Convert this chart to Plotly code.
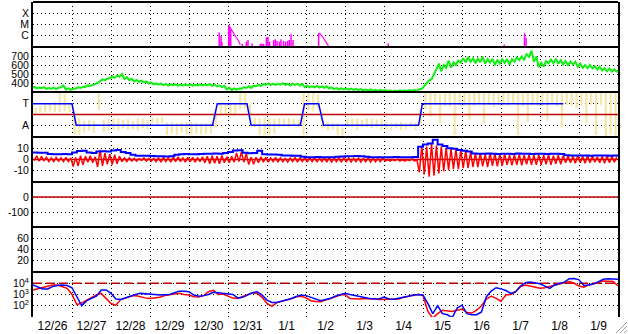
import numpy as np
import pandas as pd
import plotly.graph_objects as go
from plotly.subplots import make_subplots

START = pd.Timestamp("2014-12-26")
END = pd.Timestamp("2015-01-10")
STEP_H = 3  # hours between samples

# ---------------- data ----------------
# X-ray flares: isolated spikes (hours since start, flux W/m2)
xr_spike_h = [114.6, 115.7, 116.3, 120.4, 121.0, 121.7, 128.8, 131.3, 132.3, 134.8, 139.9, 140.9,
              141.9, 143.6, 144.6, 145.6, 148.1, 149.1, 150.2, 151.6, 152.6, 154.2, 155.4, 156.7,
              157.7, 158.8, 160.0, 175.8, 218.6, 290.0, 302.5, 303.4]
xr_spike_f = [1.9e-6, 9.5e-7, 3e-7, 9e-6, 6e-6, 3.7e-6, 1.9e-7, 3e-7, 4.2e-7, 2.1e-7, 1.9e-7, 2.1e-7,
              1.9e-7, 7.2e-7, 8.3e-7, 3e-7, 4.2e-7, 4.9e-7, 3.5e-7, 3e-7, 4.9e-7, 3.5e-7, 3e-7, 3.5e-7,
              4.2e-7, 1.35e-6, 4.2e-7, 1.65e-6, 2.1e-7, 1.7e-7, 1.65e-6, 6.7e-7]
# X-ray flare decays (polyline, None = gap)
xr_decay_h = [120.4, 121.1, 121.7, 122.6, 123.9, 125.1, 126.3, 127.6, None,
              175.8, 176.8, 178.0, 179.3, 180.5, 181.9]
xr_decay_f = [9e-6, 6e-6, 3.7e-6, 2.2e-6, 1.3e-6, 7e-7, 4e-7, 1.6e-7, None,
              1.65e-6, 1.4e-6, 9e-7, 5e-7, 2.8e-7, 1.2e-7]

# Solar wind speed (km/s), every 3 h
speed = [350, 345, 348, 340, 342, 340, 362, 335,
         330, 345, 352, 365, 372, 392, 430, 440,
         462, 470, 485, 455, 440, 425, 420, 412,
         400, 390, 388, 382, 378, 380, 376, 378,
         380, 376, 380, 378, 382, 376, 368, 360,
         338, 330, 332, 345, 355, 358, 372, 378,
         388, 384, 386, 390, 385, 382, 386, 380,
         362, 358, 360, 356, 355, 345, 338, 335,
         333, 332, 330, 328, 322, 324, 320, 318,
         316, 314, 312, 315, 314, 316, 318, 322,
         350, 410, 465, 585, 565, 610, 600, 625,
         650, 660, 655, 645, 662, 640, 648, 628,
         640, 645, 635, 660, 675, 690, 725, 665,
         600, 612, 640, 645, 632, 625, 618, 620,
         598, 585, 582, 575, 565, 552, 545, 540,
         538]
# half-range of speed scatter within each sample (km/s)
speed_jit = [6, 5, 6, 5, 6, 8, 10, 6,
             6, 7, 6, 8, 6, 8, 10, 8,
             10, 12, 15, 10, 8, 8, 6, 6,
             6, 5, 6, 5, 6, 5, 6, 5,
             6, 5, 6, 5, 6, 8, 6, 8,
             8, 10, 6, 8, 10, 12, 8, 10,
             6, 8, 6, 8, 6, 10, 6, 8,
             8, 6, 8, 6, 8, 6, 6, 5,
             5, 5, 6, 5, 5, 6, 5, 5,
             5, 5, 5, 5, 5, 5, 5, 8,
             15, 20, 25, 30, 35, 40, 30, 25,
             25, 30, 20, 25, 30, 25, 20, 30,
             25, 20, 30, 25, 20, 30, 35, 30,
             25, 30, 20, 25, 20, 18, 20, 15,
             18, 15, 18, 12, 15, 12, 15, 12,
             12]

# IMF sector polarity (T = +1, A = -1)
sector_h = [0, 24, 26.6, 110.5, 113.4, 131.7, 134.2, 164.5, 167.1, 175.8, 178.8, 237.3, 239.6, 326.3]
sector_v = [1, 1, -1, -1, 1, 1, -1, -1, 1, 1, -1, -1, 1, 1]
# IMF angle scatter per 3-h bin (panel units, T = +1, A = -1)
phi_lo = [0.1, 0.15, 0.2, 0.3, 0.2, 0.2, 0.3, 0.2,
          -1.9, -1.9, -1.7, -1.5, -1.7, 0.4, -1.6, -1.5,
          -1.4, -1.5, -1.3, -1.45, -1.4, -1.5, -1.3, -1.4,
          -0.8, -0.85, -0.8, -1.9, -1.8, -1.9, -1.7, -1.9,
          -1.9, -1.8, -1.9, -1.8, -1.75, -1.2, -0.05, 0.0,
          -0.05, 0.0, 0.5, 0.55, 0.0, -1.2, -1.9, -1.9,
          -1.9, -1.8, -1.2, -1.15, -1.2, -1.1, -1.2, -1.9,
          0.4, 0.3, 0.5, -1.3, -1.5, -1.4, -1.9, -1.95,
          -1.2, -1.2, -1.5, -1.2, -1.2, -1.3, -1.2, -1.45,
          -1.4, -1.45, -1.3, -1.45, -1.4, -1.2, -1.45, -0.9,
          0.5, -0.2, 0.9, -0.8, 0.8, 0.7, -1.9, 0.8,
          0.9, -0.5, 0.8, 1.0, -0.9, 0.9, 0.7, 0.9,
          0.9, 0.8, 1.0, -1.9, 0.8, -0.7, 0.9, 0.8,
          0.8, -0.6, 1.0, 0.8, -1.2, 0.9, 0.8, 0.6,
          0.8, -0.8, 0.9, -1.9, 0.9, -2.0, -1.9, -2.0]
phi_hi = [0.6, 0.8, 1.1, 1.0, 1.2, 2.0, 1.9, 1.1,
          -0.1, -0.3, -0.6, -0.5, -0.6, 2.0, -0.5, -0.4,
          -0.4, -0.35, -0.5, -0.4, -0.6, -0.35, -0.4, -0.5,
          -0.25, -0.3, -0.25, -0.75, -0.7, -0.8, -0.75, -0.7,
          -0.7, -0.75, -0.8, -0.85, -0.8, 0.2, 1.0, 1.1,
          1.05, 1.0, 2.0, 2.0, 1.1, -0.35, -0.4, -0.3,
          -0.35, -0.4, -0.35, -0.4, -0.35, -0.4, -0.5, 2.0,
          2.1, 2.0, 1.9, -0.5, -0.7, -0.75, -0.8, -1.2,
          -0.35, -0.4, -0.35, -0.5, -0.35, -0.4, -0.45, -0.35,
          -0.7, -0.75, -0.75, -0.7, -0.8, -0.7, -0.75, 0.5,
          2.1, 2.0, 2.1, 1.9, 2.1, 2.0, 2.1, 2.0,
          2.1, 2.1, 2.0, 2.1, 2.0, 2.1, 2.0, 2.1,
          2.1, 2.0, 2.1, 2.1, 2.0, 2.1, 2.1, 2.0,
          2.1, 2.1, 2.0, 2.1, 2.1, 2.0, 2.1, 2.1,
          2.1, 2.0, 2.1, 2.1, 2.0, 2.1, 2.0, 2.1]

# IMF |B| (nT), every 3 h
bt = [6.5, 6.3, 6.2, 5.2, 5.0, 5.0, 5.1, 5.0,
      6.5, 8.0, 8.2, 6.5, 6.0, 7.5, 7.8, 7.5,
      8.5, 8.8, 7.0, 6.0, 4.5, 3.5, 3.5, 3.6,
      3.2, 3.0, 3.0, 2.8, 3.0, 4.5, 5.0, 5.2,
      5.0, 5.0, 5.2, 5.3, 5.3, 5.5, 5.3, 6.0,
      7.0, 8.4, 8.6, 6.2, 5.9, 6.0, 8.2, 5.0,
      4.7, 4.6, 4.5, 3.8, 3.7, 3.6, 3.4, 2.6,
      2.2, 2.1, 2.3, 2.1, 2.2, 2.1, 2.5, 2.8,
      3.0, 3.0, 3.2, 3.0, 2.5, 2.2, 2.1, 2.1,
      2.2, 2.1, 2.4, 2.2, 2.1, 2.2, 2.3, 12.0,
      14.0, 15.0, 18.5, 14.0, 12.5, 10.5, 10.0, 8.8,
      8.2, 7.5, 5.6, 5.4, 5.3, 5.5, 5.3, 5.2,
      5.4, 5.3, 5.2, 5.5, 5.3, 5.4, 5.2, 5.3,
      5.3, 5.2, 5.4, 5.3, 5.1, 4.0, 3.8, 3.7,
      3.7, 3.8, 3.6, 3.7, 3.8, 3.7, 3.6, 3.7,
      3.7]
# IMF Bz range per 3-h bin (nT)
bz_lo = [-1, -1.5, -1, -2, -2, -1.5, -2, -2,
         -6.5, -6, -5, -2.5, -3, -7, -6, -4.5,
         -4.7, -4, -2, -2, -1.5, -1.5, -1, -1.5,
         -1.5, -2, -2.5, -2, -2.5, -2, -2, -2.5,
         -2, -2.5, -2, -3, -4, -3.5, -4, -3,
         -3, -2.5, -2, -2.5, -4.7, -4.5, -3, -2.5,
         -2.5, -2, -2.5, -2, -2.5, -2, -2.5, -2,
         -2.5, -2, -2.5, -2, -2.5, -2.5, -2, -2.5,
         -2, -2.5, -2, -2.5, -2, -2.5, -2, -2,
         -1.5, -1.5, -1, -1.5, -1.5, -1, -1.5, -12,
         -14, -16, -15, -13, -11, -10, -9, -9,
         -8, -8, -7, -7, -6.5, -7, -6, -6.5,
         -5.6, -5, -5.5, -5, -5.5, -4.5, -5, -5,
         -5, -4.5, -5, -4, -4.5, -3, -3, -3.5,
         -3, -3.5, -3, -2.5, -3, -3.5, -3, -2.5]
bz_hi = [3.5, 3, 2, 1.5, 2, 1.5, 2, 1.5,
         2, 3.5, 3, 3.5, 2.5, 9, 6, 5,
         4.5, 3, 1.5, 1.5, 1, 1, 1.5, 1,
         1, 1.5, 2, 1.5, 2, 2.5, 1.5, 2,
         2, 1.5, 2.5, 3, 3.5, 3, 3.7, 2.5,
         3, 6, 7, 5.5, 2, 2, 2.5, 2,
         1.5, 2, 1.5, 1, 1.5, 2, 1.5, 2,
         2, 1.5, 1.5, 2, 1.5, 1, 1.5, 1.5,
         1.5, 1, 1.5, 1, 1.5, 1, 1, 1.5,
         0, 0, 0.5, 0, 0, 0.5, 0, 13,
         12, 14.7, 13, 12, 11, 10, 9.5, 9,
         8, 7, 6, 6, 5, 6, 5.5, 5,
         5, 4, 4.5, 5, 4, 4.5, 4, 4.5,
         4, 4.5, 3.5, 4, 3.5, 3.5, 3, 3.7,
         3, 3.7, 3, 2.5, 3, 3.5, 3, 2.5]

# Electron flux, log10, every 3 h (two channels)
flux_blue_log = [3.84, 3.7, 3.5, 3.5, 3.7, 3.8, 3.85, 3.8,
                 3.6, 2.8, 2.0, 2.45, 2.65, 2.85, 3.4, 3.4,
                 3.1, 2.6, 2.55, 2.7, 2.9, 3.0, 3.1, 3.08,
                 3.04, 3.0, 2.95, 2.97, 3.0, 3.15, 3.3, 3.3,
                 3.25, 2.95, 2.85, 2.9, 3.0, 3.2, 3.16, 3.1,
                 3.08, 3.0, 2.7, 2.75, 2.95, 3.15, 3.25, 2.95,
                 2.5, 2.3, 2.3, 2.4, 2.5, 2.65, 2.82, 2.95,
                 2.9, 2.75, 2.55, 2.45, 2.55, 2.65, 2.85, 2.98,
                 3.1, 3.0, 2.9, 2.8, 2.7, 2.65, 2.62, 2.6,
                 2.78, 2.6, 2.58, 2.65, 2.75, 2.85, 2.95, 3.0,
                 2.95, 2.2, 1.3, 2.0, 1.3, 1.2, 0.95, 1.8,
                 2.05, 1.3, 1.2, 1.2, 1.45, 2.8, 3.3, 3.6,
                 3.5, 3.35, 3.1, 3.25, 3.75, 4.05, 4.12, 4.05,
                 3.95, 3.75, 3.55, 3.85, 4.0, 4.1, 4.4, 4.42,
                 4.3, 3.8, 3.85, 3.95, 4.15, 4.35, 4.4, 4.38,
                 4.35]
flux_red_log = [3.4, 3.5, 3.6, 3.7, 3.85, 3.85, 3.7, 3.55,
                3.0, 2.1, 2.25, 2.5, 2.7, 2.95, 3.1, 2.65,
                2.2, 2.05, 2.55, 2.68, 2.85, 2.92, 2.8, 2.7,
                2.65, 2.7, 2.75, 2.9, 2.98, 3.05, 3.1, 3.0,
                2.95, 2.8, 2.78, 2.9, 3.25, 3.38, 3.0, 3.05,
                2.85, 2.68, 2.65, 2.8, 3.0, 3.15, 3.1, 2.75,
                2.2, 1.95, 2.28, 2.38, 2.48, 2.62, 2.8, 2.85,
                2.7, 2.45, 2.38, 2.35, 2.5, 2.62, 2.8, 2.95,
                3.0, 2.65, 2.62, 2.6, 2.65, 2.65, 2.6, 2.55,
                2.57, 2.57, 2.55, 2.6, 2.75, 2.85, 2.95, 3.0,
                2.9, 1.5, 0.9, 1.3, 1.6, 1.55, 1.5, 1.6,
                1.7, 1.4, 1.35, 1.6, 2.0, 2.6, 2.85, 2.65,
                2.4, 2.95, 3.0, 3.25, 3.7, 3.85, 3.75, 3.6,
                3.55, 3.6, 3.7, 3.85, 3.95, 4.0, 4.15, 4.0,
                3.75, 3.65, 3.85, 3.95, 4.05, 4.2, 4.18, 4.15,
                3.75]
flux_alert_level = 1e4

# y-axis tick definitions
xray_ticks = [1e-6, 1e-5, 1e-4]
xray_labels = ["C", "M", "X"]
speed_ticks = [400, 500, 600, 700]
sector_ticks = [1, -1]
sector_labels = ["T", "A"]
bz_ticks = [10, 0, -10]
bz_labels = ["10", "0", "-10"]
dst_ticks = [0, -100]
dst_labels = ["0", "-100"]
kp_ticks = [20, 40, 60]
flux_ticks = [1e2, 1e3, 1e4]
flux_labels = ["10<sup>2</sup>", "10<sup>3</sup>", "10<sup>4</sup>"]

# ---------------- helpers ----------------
def to_time(hours):
    return [None if h is None else START + pd.Timedelta(hours=float(h)) for h in hours]


def vsegs(hours, lo, hi):
    xs, ys = [], []
    for t, a, b in zip(to_time(hours), lo, hi):
        xs += [t, t, None]
        ys += [a, b, None]
    return xs, ys


def sawtooth(hours, lo, hi, half):
    """noisy trace: within each sample the value swings from its low to its high"""
    hs, ys = [], []
    for h, a, b in zip(hours, lo, hi):
        hs += [h - half, h + half]
        ys += [a, b]
    return to_time(hs), ys


grid_h = np.arange(len(speed)) * STEP_H
bin_h = np.arange(len(bz_lo)) * STEP_H + STEP_H / 2
grid_t = to_time(grid_h)
span = [START, END]

fig = make_subplots(rows=7, cols=1, shared_xaxes=True, vertical_spacing=0)

MAG = "#ff00ff"
GREEN = "#11ee11"
YEL = "#f7e7a6"
BLUE = "#0000ff"
RED = "#ff0000"
DRED = "#c00000"

# panel 1: X-ray
sx, sy = vsegs(xr_spike_h, [1e-7] * len(xr_spike_h), xr_spike_f)
fig.add_trace(go.Scatter(x=sx, y=sy, mode="lines", line=dict(color=MAG, width=1.5)), row=1, col=1)
fig.add_trace(go.Scatter(x=to_time(xr_decay_h), y=xr_decay_f, mode="lines",
                         line=dict(color=MAG, width=1.2)), row=1, col=1)

# panel 2: speed
jx, jy = sawtooth(grid_h, [v - j for v, j in zip(speed, speed_jit)],
                  [v + j for v, j in zip(speed, speed_jit)], 0.75)
fig.add_trace(go.Scatter(x=jx, y=jy, mode="lines", line=dict(color=GREEN, width=2)), row=2, col=1)

# panel 3: sector
px_, py_ = vsegs(bin_h, phi_lo, phi_hi)
fig.add_trace(go.Scatter(x=px_, y=py_, mode="lines", line=dict(color=YEL, width=2.2)), row=3, col=1)
fig.add_trace(go.Scatter(x=span, y=[0, 0], mode="lines", line=dict(color=DRED, width=1.5)), row=3, col=1)
fig.add_trace(go.Scatter(x=to_time(sector_h), y=sector_v, mode="lines", line=dict(color=BLUE, width=1.5)), row=3, col=1)

# panel 4: Bz / Bt
fig.add_trace(go.Scatter(x=span, y=[0, 0], mode="lines", line=dict(color=DRED, width=1.5)), row=4, col=1)
bx, by = sawtooth(bin_h, bz_lo, bz_hi, 0.75)
fig.add_trace(go.Scatter(x=bx, y=by, mode="lines", line=dict(color=RED, width=1.5)), row=4, col=1)
fig.add_trace(go.Scatter(x=grid_t, y=bt, mode="lines", line=dict(color=BLUE, width=2, shape="hv")), row=4, col=1)

# panel 5: Dst (reference line only)
fig.add_trace(go.Scatter(x=span, y=[0, 0], mode="lines", line=dict(color=DRED, width=1.5)), row=5, col=1)

# panel 6: empty
fig.add_trace(go.Scatter(x=span, y=[None, None], mode="lines"), row=6, col=1)

# panel 7: electron flux
fig.add_trace(go.Scatter(x=span, y=[flux_alert_level] * 2, mode="lines",
                         line=dict(color=DRED, width=1.5, dash="9px,4px")), row=7, col=1)
fig.add_trace(go.Scatter(x=grid_t, y=[10 ** v for v in flux_red_log], mode="lines",
                         line=dict(color=RED, width=1.5)), row=7, col=1)
fig.add_trace(go.Scatter(x=grid_t, y=[10 ** v for v in flux_blue_log], mode="lines",
                         line=dict(color=BLUE, width=1.5)), row=7, col=1)

FONT = "Liberation Sans, Arial, sans-serif"
grid = dict(showgrid=True, gridcolor="black", griddash="1px,3px", gridwidth=1)

for r in range(1, 8):
    fig.update_xaxes(row=r, col=1, type="date", range=span, dtick=86400000, tick0=START,
                     tickformat="%-m/%-d", ticklabelmode="period", ticks="",
                     showline=False, zeroline=False, automargin=False, fixedrange=True,
                     tickfont=dict(family=FONT, size=12, color="black"), **grid)
    fig.update_yaxes(row=r, col=1, showline=True, mirror=True, linecolor="black", linewidth=2,
                     ticks="", zeroline=False, automargin=False, fixedrange=True,
                     tickfont=dict(family=FONT, size=10.5, color="black"), **grid)

fig.update_yaxes(row=1, col=1, type="log", range=[-7, -3], tickmode="array", tickvals=xray_ticks, ticktext=xray_labels)
fig.update_yaxes(row=2, col=1, range=[300, 800], tickmode="array", tickvals=speed_ticks)
fig.update_yaxes(row=3, col=1, range=[-2.1, 2.1], tickmode="array", tickvals=sector_ticks, ticktext=sector_labels)
fig.update_yaxes(row=4, col=1, range=[-21, 21], tickmode="array", tickvals=bz_ticks, ticktext=bz_labels)
fig.update_yaxes(row=5, col=1, range=[-200, 100], tickmode="array", tickvals=dst_ticks, ticktext=dst_labels)
fig.update_yaxes(row=6, col=1, range=[0, 80], tickmode="array", tickvals=kp_ticks)
fig.update_yaxes(row=7, col=1, type="log", range=[1, 5], tickmode="array", tickvals=flux_ticks, ticktext=flux_labels)

# panel separators (top of each panel)
shapes = []
n_rows = 7
for k in range(1, n_rows + 1):
    shapes.append(dict(type="line", xref="paper", yref="paper", x0=0, x1=1, y0=k / n_rows, y1=k / n_rows,
                       line=dict(color="black", width=2), layer="above"))
# window resize grip (bottom-right corner)
W, H, L, R, T, B = 628, 334, 33, 10, 2, 17
pw, ph = W - L - R, H - T - B
for off in (0, 4, 8):
    shapes.append(dict(type="line", xref="paper", yref="paper",
                       x0=(616 + off - L) / pw, y0=(H - B - 333) / ph,
                       x1=(627 - L) / pw, y1=(H - B - (322 + off)) / ph,
                       line=dict(color="#a0a0a0", width=1)))

fig.update_layout(width=W, height=H, margin=dict(l=L, r=R, t=T, b=B),
                  paper_bgcolor="white", plot_bgcolor="white", showlegend=False,
                  font=dict(family=FONT, color="black"), shapes=shapes)

fig.write_html("out.html")
